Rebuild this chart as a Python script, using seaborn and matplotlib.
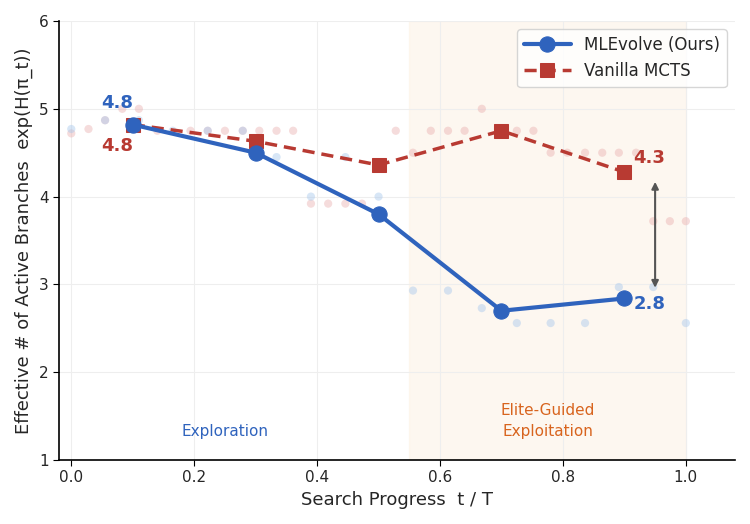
import numpy as np
import matplotlib
matplotlib.use('Agg')
import matplotlib.pyplot as plt
import seaborn as sns

# main series
steps = [0.1, 0.3, 0.5, 0.7, 0.9]
mlevolve = [4.82, 4.50, 3.80, 2.70, 2.84]
vanilla = [4.82, 4.63, 4.36, 4.75, 4.28]

# faint per-run points
ml_pts_x = [0.0, 0.055, 0.11, 0.165, 0.222, 0.279, 0.334, 0.446, 0.39, 0.5,
            0.556, 0.613, 0.668, 0.725, 0.78, 0.836, 0.891, 0.947, 1.0]
ml_pts_y = [4.77, 4.87, 4.87, 4.75, 4.75, 4.75, 4.45, 4.45, 4.0, 4.0,
            2.93, 2.93, 2.73, 2.56, 2.56, 2.56, 2.97, 2.97, 2.56]
va_pts_x = [0.0, 0.028, 0.055, 0.083, 0.11, 0.14, 0.194, 0.222, 0.25, 0.279, 0.306,
            0.334, 0.361, 0.39, 0.418, 0.446, 0.473, 0.528, 0.556, 0.585, 0.613,
            0.64, 0.668, 0.725, 0.752, 0.78, 0.807, 0.836, 0.864, 0.891, 0.919,
            0.947, 0.974, 1.0]
va_pts_y = [4.72, 4.77, 4.87, 5.0, 5.0, 4.75, 4.75, 4.75, 4.75, 4.75, 4.75,
            4.75, 4.75, 3.92, 3.92, 3.92, 3.92, 4.75, 4.5, 4.75, 4.75,
            4.75, 5.0, 4.75, 4.75, 4.5, 4.5, 4.5, 4.5, 4.5, 4.5,
            3.72, 3.72, 3.72]

blue = '#2f63bd'
red = '#b83a32'

sns.set_style('whitegrid')
plt.rcParams['font.family'] = ['DejaVu Sans']

fig, ax = plt.subplots(figsize=(7.5, 5.24), dpi=100)
ax.axvspan(0.55, 1.0, color='#fdf3e6', alpha=0.6, zorder=0)

sns.scatterplot(x=va_pts_x, y=va_pts_y, color='#e8a8a8', alpha=0.4, s=35, edgecolor='none', ax=ax, zorder=1)
sns.scatterplot(x=ml_pts_x, y=ml_pts_y, color='#a8c8ec', alpha=0.45, s=35, edgecolor='none', ax=ax, zorder=1)

sns.lineplot(x=steps, y=mlevolve, color=blue, lw=3, marker='o', markersize=11,
             markeredgecolor=blue, label='MLEvolve (Ours)', ax=ax, zorder=4)
sns.lineplot(x=steps, y=vanilla, color=red, lw=2.5, linestyle=(0, (3.5, 2)), marker='s', markersize=10,
             markeredgecolor=red, label='Vanilla MCTS', ax=ax, zorder=3)

ax.text(0.075, 5.07, '4.8', color=blue, fontsize=13, fontweight='bold', ha='center', va='center')
ax.text(0.075, 4.58, '4.8', color=red, fontsize=13, fontweight='bold', ha='center', va='center')
ax.text(0.915, 4.44, '4.3', color=red, fontsize=13, fontweight='bold', ha='left', va='center')
ax.text(0.915, 2.78, '2.8', color=blue, fontsize=13, fontweight='bold', ha='left', va='center')
ax.annotate('', xy=(0.95, 2.93), xytext=(0.95, 4.2),
            arrowprops=dict(arrowstyle='<|-|>', color='#555555', lw=1.5, mutation_scale=10))

ax.text(0.25, 1.32, 'Exploration', color=blue, fontsize=11, ha='center', va='center')
ax.text(0.775, 1.45, 'Elite-Guided\nExploitation', color='#d8641e', fontsize=11, ha='center', va='center',
        linespacing=1.5)

ax.set_xlim(-0.02, 1.08)
ax.set_ylim(1, 6)
ax.set_xticks([0.0, 0.2, 0.4, 0.6, 0.8, 1.0])
ax.set_xlabel('Search Progress  t / T', fontsize=13)
ax.set_ylabel('Effective # of Active Branches  exp(H(π_t))', fontsize=13)
ax.grid(color='#eeeeee', lw=0.8)
for s in ['top', 'right']:
    ax.spines[s].set_visible(False)
for s in ['left', 'bottom']:
    ax.spines[s].set_color('black')
    ax.spines[s].set_linewidth(1.2)
ax.tick_params(axis='both', labelsize=11, length=4, color='black', left=True, bottom=True)

leg = ax.legend(loc='upper right', fontsize=12, frameon=True, handlelength=2.8)
leg.get_frame().set_edgecolor('#cccccc')

fig.tight_layout()
fig.savefig('out.png', dpi=100)
